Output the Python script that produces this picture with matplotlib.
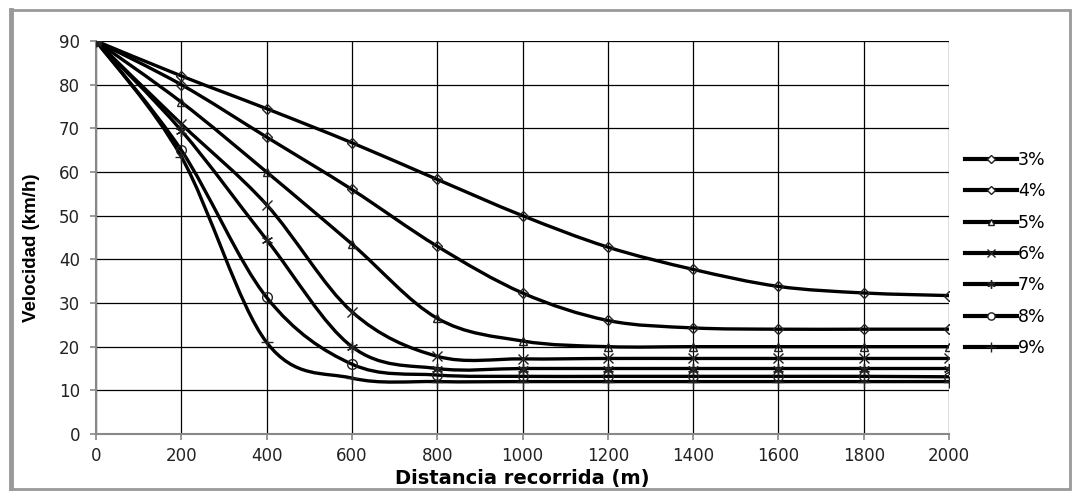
import matplotlib
matplotlib.use("Agg")
import matplotlib.pyplot as plt
from matplotlib.path import Path
from matplotlib.patches import PathPatch, Rectangle
from matplotlib.lines import Line2D
import numpy as np

plt.rcParams['font.family'] = ['DejaVu Sans']

distancia = [0, 200, 400, 600, 800, 1000, 1200, 1400, 1600, 1800, 2000]
series_labels = ["3%", "4%", "5%", "6%", "7%", "8%", "9%"]
v3 = [90, 82, 74.5, 66.7, 58.3, 50, 42.8, 37.7, 33.8, 32.3, 31.7]
v4 = [90, 80, 68, 56, 43, 32.3, 26, 24.3, 24, 24, 24]
v5 = [90, 76, 60, 43.5, 26.5, 21.3, 20, 20, 20, 20, 20]
v6 = [90, 71, 52.5, 28, 17.8, 17.2, 17.3, 17.3, 17.3, 17.3, 17.3]
v7 = [90, 69.5, 44.5, 20, 15, 15, 15, 15, 15, 15, 15]
v8 = [90, 65, 31.3, 16, 13.5, 13.2, 13.2, 13.2, 13.2, 13.2, 13.1]
v9 = [90, 63.5, 21, 12.8, 12, 12, 12, 12, 12, 12, 12]
series = [v3, v4, v5, v6, v7, v8, v9]
markers = ['D', 'D', '^', 'x', (6, 2, 0), 'o', '+']
msizes = [5, 5, 6, 7, 8, 7, 9]

fig = plt.figure(figsize=(10.75, 4.91), dpi=100)
ax = fig.add_axes([96/1075, 1-434/491, (949-96)/1075, (434-41)/491])

def smooth_path(x, y):
    x = np.asarray(x, float); y = np.asarray(y, float)
    n = len(x)
    verts = [(x[0], y[0])]
    codes = [Path.MOVETO]
    for i in range(n-1):
        p0 = np.array([x[max(i-1, 0)], y[max(i-1, 0)]])
        p1 = np.array([x[i], y[i]])
        p2 = np.array([x[i+1], y[i+1]])
        p3 = np.array([x[min(i+2, n-1)], y[min(i+2, n-1)]])
        c1 = p1 + (p2 - p0) / 6.0
        c2 = p2 - (p3 - p1) / 6.0
        verts += [tuple(c1), tuple(c2), tuple(p2)]
        codes += [Path.CURVE4]*3
    return Path(verts, codes)

for vals, mk, ms in zip(series, markers, msizes):
    patch = PathPatch(smooth_path(distancia, vals), facecolor='none',
                      edgecolor='black', lw=2.4, zorder=3)
    ax.add_patch(patch)
    ax.plot(distancia, vals, linestyle='none', marker=mk, ms=ms,
            mfc='none', mec='#222222', mew=1.0, zorder=4)

ax.set_xlim(0, 2000)
ax.set_ylim(0, 90)
ax.set_xticks(distancia)
ax.set_yticks(range(0, 91, 10))
ax.grid(True, color='black', lw=0.9)
ax.set_axisbelow(True)
for s in ['top', 'right']:
    ax.spines[s].set_visible(False)
ax.spines['left'].set_color('#888888')
ax.spines['bottom'].set_color('#888888')
ax.spines['left'].set_linewidth(1.5)
ax.spines['bottom'].set_linewidth(1.5)
ax.tick_params(axis='both', labelsize=12, labelcolor='#222222', color='#888888',
               length=4.5, direction='out', width=1.2)
ax.tick_params(axis='x', pad=5)
ax.tick_params(axis='y', pad=7)
ax.set_xlabel("Distancia recorrida (m)", fontsize=14, fontweight='bold')
ax.set_ylabel("Velocidad (km/h)", fontsize=13.5, fontweight='bold',
              family=['Liberation Sans', 'DejaVu Sans'])
ax.xaxis.set_label_coords(0.5, -0.088)
ax.yaxis.set_label_coords(-0.066, 0.475)

handles = [Line2D([], [], color='black', lw=3, marker=mk, ms=ms*0.75, mfc='white', mec='#222222', mew=1.0)
           for mk, ms in zip(markers, msizes)]
fig.legend(handles, series_labels, loc='upper left', bbox_to_anchor=(958/1075, 1-144/491),
           frameon=False, fontsize=12.5, handlelength=3.0, handletextpad=0.05,
           labelspacing=0.77, borderaxespad=0)

fig.add_artist(Rectangle((11/1075, 2/491), (1070-11)/1075, (481-2)/491, transform=fig.transFigure,
                         fill=False, edgecolor='#999999', lw=2.0))
fig.add_artist(Line2D([11/1075, 11/1075], [2/491, 481/491], transform=fig.transFigure,
                      color='#999999', lw=3.5))

fig.savefig("out.png", dpi=100)
